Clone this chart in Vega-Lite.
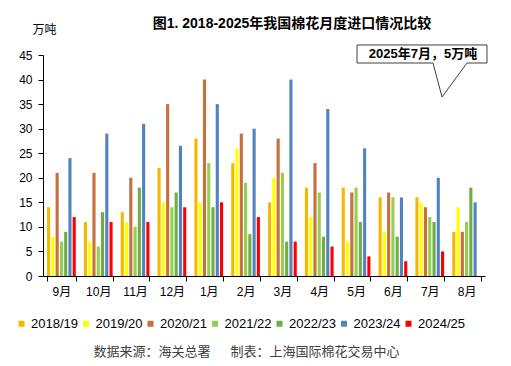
{
  "$schema": "https://vega.github.io/schema/vega-lite/v6.json",
  "width": 442,
  "height": 221,
  "autosize": {"type": "none"},
  "padding": {"left": 43, "top": 55, "right": 26, "bottom": 90},
  "background": "white",
  "title": {"text": "图1. 2018-2025年我国棉花月度进口情况比较", "fontSize": 14, "fontWeight": "bold", "anchor": "middle", "dx": 28, "offset": -8, "color": "#000000"},
  "config": {
    "font": "Liberation Sans, Noto Sans CJK SC",
    "view": {"stroke": null},
    "axis": {"grid": false}
  },
  "resolve": {"scale": {"x": "independent"}},
  "layer": [
    {
      "data": {"values": [
        {"m": "9月", "s": "2018/19", "v": 14}, {"m": "9月", "s": "2019/20", "v": 8}, {"m": "9月", "s": "2020/21", "v": 21}, {"m": "9月", "s": "2021/22", "v": 7}, {"m": "9月", "s": "2022/23", "v": 9}, {"m": "9月", "s": "2023/24", "v": 24}, {"m": "9月", "s": "2024/25", "v": 12},
        {"m": "10月", "s": "2018/19", "v": 11}, {"m": "10月", "s": "2019/20", "v": 7}, {"m": "10月", "s": "2020/21", "v": 21}, {"m": "10月", "s": "2021/22", "v": 6}, {"m": "10月", "s": "2022/23", "v": 13}, {"m": "10月", "s": "2023/24", "v": 29}, {"m": "10月", "s": "2024/25", "v": 11},
        {"m": "11月", "s": "2018/19", "v": 13}, {"m": "11月", "s": "2019/20", "v": 11}, {"m": "11月", "s": "2020/21", "v": 20}, {"m": "11月", "s": "2021/22", "v": 10}, {"m": "11月", "s": "2022/23", "v": 18}, {"m": "11月", "s": "2023/24", "v": 31}, {"m": "11月", "s": "2024/25", "v": 11},
        {"m": "12月", "s": "2018/19", "v": 22}, {"m": "12月", "s": "2019/20", "v": 15}, {"m": "12月", "s": "2020/21", "v": 35}, {"m": "12月", "s": "2021/22", "v": 14}, {"m": "12月", "s": "2022/23", "v": 17}, {"m": "12月", "s": "2023/24", "v": 26.5}, {"m": "12月", "s": "2024/25", "v": 14},
        {"m": "1月", "s": "2018/19", "v": 28}, {"m": "1月", "s": "2019/20", "v": 15}, {"m": "1月", "s": "2020/21", "v": 40}, {"m": "1月", "s": "2021/22", "v": 23}, {"m": "1月", "s": "2022/23", "v": 14}, {"m": "1月", "s": "2023/24", "v": 35}, {"m": "1月", "s": "2024/25", "v": 15},
        {"m": "2月", "s": "2018/19", "v": 23}, {"m": "2月", "s": "2019/20", "v": 26}, {"m": "2月", "s": "2020/21", "v": 29}, {"m": "2月", "s": "2021/22", "v": 19}, {"m": "2月", "s": "2022/23", "v": 8.5}, {"m": "2月", "s": "2023/24", "v": 30}, {"m": "2月", "s": "2024/25", "v": 12},
        {"m": "3月", "s": "2018/19", "v": 15}, {"m": "3月", "s": "2019/20", "v": 20}, {"m": "3月", "s": "2020/21", "v": 28}, {"m": "3月", "s": "2021/22", "v": 21}, {"m": "3月", "s": "2022/23", "v": 7}, {"m": "3月", "s": "2023/24", "v": 40}, {"m": "3月", "s": "2024/25", "v": 7},
        {"m": "4月", "s": "2018/19", "v": 18}, {"m": "4月", "s": "2019/20", "v": 12}, {"m": "4月", "s": "2020/21", "v": 23}, {"m": "4月", "s": "2021/22", "v": 17}, {"m": "4月", "s": "2022/23", "v": 8}, {"m": "4月", "s": "2023/24", "v": 34}, {"m": "4月", "s": "2024/25", "v": 6},
        {"m": "5月", "s": "2018/19", "v": 18}, {"m": "5月", "s": "2019/20", "v": 7}, {"m": "5月", "s": "2020/21", "v": 17}, {"m": "5月", "s": "2021/22", "v": 18}, {"m": "5月", "s": "2022/23", "v": 11}, {"m": "5月", "s": "2023/24", "v": 26}, {"m": "5月", "s": "2024/25", "v": 4},
        {"m": "6月", "s": "2018/19", "v": 16}, {"m": "6月", "s": "2019/20", "v": 9}, {"m": "6月", "s": "2020/21", "v": 17}, {"m": "6月", "s": "2021/22", "v": 16}, {"m": "6月", "s": "2022/23", "v": 8}, {"m": "6月", "s": "2023/24", "v": 16}, {"m": "6月", "s": "2024/25", "v": 3},
        {"m": "7月", "s": "2018/19", "v": 16}, {"m": "7月", "s": "2019/20", "v": 15}, {"m": "7月", "s": "2020/21", "v": 14}, {"m": "7月", "s": "2021/22", "v": 12}, {"m": "7月", "s": "2022/23", "v": 11}, {"m": "7月", "s": "2023/24", "v": 20}, {"m": "7月", "s": "2024/25", "v": 5},
        {"m": "8月", "s": "2018/19", "v": 9}, {"m": "8月", "s": "2019/20", "v": 14}, {"m": "8月", "s": "2020/21", "v": 9}, {"m": "8月", "s": "2021/22", "v": 11}, {"m": "8月", "s": "2022/23", "v": 18}, {"m": "8月", "s": "2023/24", "v": 15}
      ]},
      "mark": {"type": "bar"},
      "encoding": {
        "x": {
          "field": "m", "type": "nominal",
          "sort": ["9月", "10月", "11月", "12月", "1月", "2月", "3月", "4月", "5月", "6月", "7月", "8月"],
          "scale": {"paddingInner": 0.22, "paddingOuter": 0.11},
          "axis": {
            "title": "数据来源：海关总署\u3000\u00a0\u00a0制表：上海国际棉花交易中心",
            "titleX": 203, "titleY": 75, "titleAlign": "center", "titleBaseline": "middle",
            "titleFontSize": 13, "titleFontWeight": "normal", "titleColor": "#404040",
            "labelAngle": 0, "tickBand": "extent", "tickSize": 5, "labelPadding": 5,
            "labelFontSize": 12, "labelColor": "#000000", "domainColor": "#000000", "tickColor": "#000000"
          }
        },
        "xOffset": {"field": "s", "type": "nominal", "scale": {"paddingInner": 0.27}},
        "y": {
          "field": "v", "type": "quantitative",
          "scale": {"domain": [0, 45]},
          "axis": {
            "title": "万吨", "titleAngle": 0, "titleAlign": "left", "titleX": -11, "titleY": -26,
            "titleBaseline": "middle", "titleFontSize": 12, "titleFontWeight": "normal", "titleColor": "#000000",
            "values": [0, 5, 10, 15, 20, 25, 30, 35, 40, 45],
            "tickSize": 5, "labelPadding": 6, "labelFontSize": 12, "labelColor": "#000000",
            "domainColor": "#000000", "tickColor": "#000000"
          }
        },
        "color": {
          "field": "s", "type": "nominal",
          "scale": {
            "domain": ["2018/19", "2019/20", "2020/21", "2021/22", "2022/23", "2023/24", "2024/25"],
            "range": ["#F5B800", "#FFFF00", "#C8703C", "#92D050", "#70AD47", "#5383BE", "#FF0000"]
          },
          "legend": {
            "orient": "none", "legendX": -28, "legendY": 262, "direction": "horizontal",
            "title": null, "symbolType": "square", "symbolSize": 36, "symbolStrokeWidth": 0,
            "labelFontSize": 13, "labelOffset": 3, "columnPadding": 1.5, "labelColor": "#000000"
          }
        }
      }
    },
    {
      "data": {"values": [
        {"o": 1, "ax": 10.833, "ay": 36.45},
        {"o": 2, "ax": 10.588, "ay": 43.37},
        {"o": 3, "ax": 8.525, "ay": 43.37},
        {"o": 4, "ax": 8.525, "ay": 47.04},
        {"o": 5, "ax": 12.054, "ay": 47.04},
        {"o": 6, "ax": 12.054, "ay": 43.37},
        {"o": 7, "ax": 11.511, "ay": 43.37},
        {"o": 8, "ax": 10.833, "ay": 36.45}
      ]},
      "mark": {"type": "line", "color": "#404040", "strokeWidth": 1, "strokeJoin": "miter"},
      "encoding": {
        "x": {"field": "ax", "type": "quantitative", "scale": {"domain": [0, 12]}, "axis": null},
        "y": {
          "field": "ay", "type": "quantitative", "scale": {"domain": [0, 45]},
          "axis": {
            "title": "万吨", "titleAngle": 0, "titleAlign": "left", "titleX": -11, "titleY": -26,
            "titleBaseline": "middle", "titleFontSize": 12, "titleFontWeight": "normal", "titleColor": "#000000",
            "values": [0, 5, 10, 15, 20, 25, 30, 35, 40, 45],
            "tickSize": 5, "labelPadding": 6, "labelFontSize": 12, "labelColor": "#000000",
            "domainColor": "#000000", "tickColor": "#000000"
          }
        },
        "order": {"field": "o", "type": "quantitative"}
      }
    },
    {
      "data": {"values": [{"tx": 10.317, "ty": 45.2, "label": "2025年7月，5万吨"}]},
      "mark": {"type": "text", "fontSize": 13, "fontWeight": "bold", "color": "#000000", "baseline": "middle", "align": "center"},
      "encoding": {
        "x": {"field": "tx", "type": "quantitative", "scale": {"domain": [0, 12]}, "axis": null},
        "y": {
          "field": "ty", "type": "quantitative", "scale": {"domain": [0, 45]},
          "axis": {
            "title": "万吨", "titleAngle": 0, "titleAlign": "left", "titleX": -11, "titleY": -26,
            "titleBaseline": "middle", "titleFontSize": 12, "titleFontWeight": "normal", "titleColor": "#000000",
            "values": [0, 5, 10, 15, 20, 25, 30, 35, 40, 45],
            "tickSize": 5, "labelPadding": 6, "labelFontSize": 12, "labelColor": "#000000",
            "domainColor": "#000000", "tickColor": "#000000"
          }
        },
        "text": {"field": "label"}
      }
    }
  ]
}
